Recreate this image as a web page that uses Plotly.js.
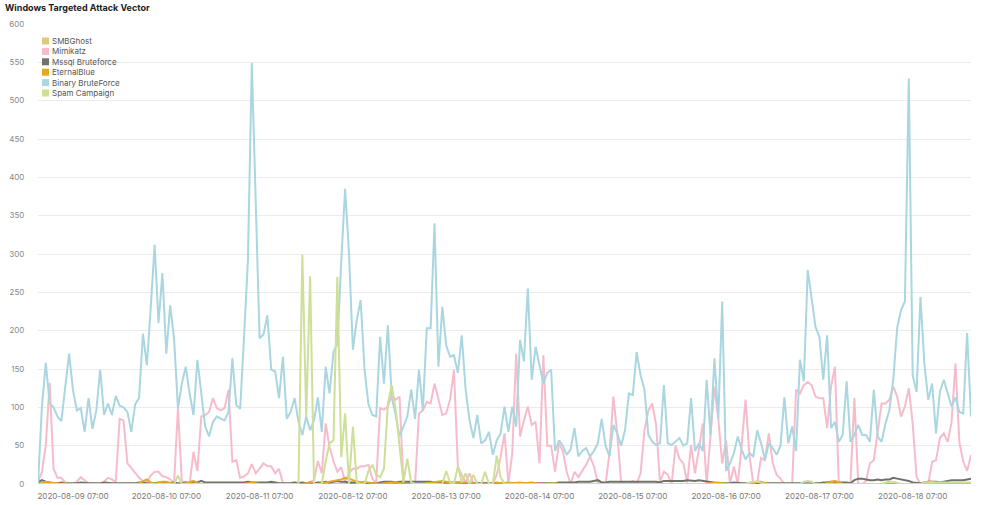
<!DOCTYPE html>
<html><head><meta charset="utf-8">
<script src="https://cdn.plot.ly/plotly-3.0.1.min.js"></script>
<style>html,body{margin:0;padding:0;background:#fff;}#chart{width:1000px;height:505px;}</style>
</head><body><div id="chart"></div>
<script>
// ---- data ----
const chartTitle = "Windows Targeted Attack Vector";
const startTime = "2020-08-08T22:00:00";   // hourly samples
const seriesNames = ["SMBGhost","Mimikatz","Mssql Bruteforce","EternalBlue","Binary BruteForce","Spam Campaign"];
const seriesColors = ["#dccb7d","#f7bccb","#707070","#e6a823","#a9d6e0","#cddf98"];
const tickVals = ["2020-08-09 07:00","2020-08-10 07:00","2020-08-11 07:00","2020-08-12 07:00","2020-08-13 07:00","2020-08-14 07:00","2020-08-15 07:00","2020-08-16 07:00","2020-08-17 07:00","2020-08-18 07:00"];
const tickLabels = ["2020-08-09 07:00","2020-08-10 07:00","2020-08-11 07:00","2020-08-12 07:00","2020-08-13 07:00","2020-08-14 07:00","2020-08-15 07:00","2020-08-16 07:00","2020-08-17 07:00","2020-08-18 07:00"];

const smbGhost = [
0,0,0,0,0,0,0,0,0,0,0,0,0,0,0,0,0,0,0,0,0,0,0,0,
0,0,0,0,0,0,0,0,0,0,0,0,0,0,0,0,0,0,0,0,0,0,0,0,
0,0,0,0,0,0,0,0,0,0,0,0,0,0,0,0,0,0,0,0,0,0,0,0,
0,0,0,0,0,0,0,0,0,0,0,0,0,0,0,0,0,0,0,0,0,0,0,0,
0,0,0,0,0,0,0,0,0,0,0,0,0,0,0,0,0,0,0,0,0,0,0,0,
0,0,0,0,0,0,0,0,0,0,0,0,0,0,0,0,0,0,0,0,0,0,0,0,
0,0,0,0,0,0,0,0,0,0,0,0,0,0,0,0,0,0,0,0,0,0,0,0,
0,0,0,0,0,0,0,0,0,0,0,0,0,0,0,1,2,2,1,0,0,0,0,0,
0,0,0,0,0,0,0,0,0,0,0,0,0,0,0,0,0,0,0,0,0,0,0,0,
0,0,0,0,0,0,0,0,0,0,0,0,0,0,0,0,0,0,0,0,0,0,0,0,0];

const mimikatz = [
3,15,50,132,20,8,8,2,0,0,3,9,5,1,1,0,0,3,8,6,2,85,83,27,
21,15,8,4,2,11,16,16,10,9,6,1,99,3,3,0,42,17,88,90,94,112,99,96,
99,123,29,31,8,10,14,26,14,20,27,23,23,14,20,1,0,1,2,0,2,0,3,5,
30,14,79,48,30,16,22,3,14,20,20,23,23,25,7,1,99,97,101,116,110,114,2,1,
1,0,92,96,107,105,131,110,90,92,110,149,23,12,2,14,1,2,1,2,0,0,12,35,
66,1,40,170,62,83,101,77,81,27,168,50,50,16,53,43,16,0,16,9,17,25,36,23,
2,0,0,40,114,66,2,0,0,4,0,14,70,96,105,77,2,16,12,0,50,33,27,2,
51,14,45,79,0,62,127,85,27,57,0,23,0,50,110,38,0,2,34,31,66,27,12,7,
0,0,0,123,118,129,133,129,114,112,112,73,127,153,0,0,0,2,112,0,0,4,27,31,
70,105,105,110,127,114,88,101,125,79,9,0,0,0,29,31,60,66,55,81,157,55,29,17,38];

const mssql = [
2,5,3,2,1,1,2,1,1,1,1,2,1,1,1,1,1,2,1,1,1,1,1,1,
1,1,2,1,1,1,1,2,1,1,1,2,1,1,2,1,2,2,4,2,2,2,2,2,
2,2,2,2,2,2,3,2,2,2,2,2,3,2,1,1,1,1,2,1,2,1,2,1,
2,2,3,2,3,4,3,3,2,2,2,2,1,1,1,1,2,3,3,3,2,3,3,3,
3,3,3,3,3,3,2,2,2,2,2,2,2,2,1,1,1,1,1,1,1,1,1,1,
1,1,1,1,1,1,1,1,1,1,1,1,1,1,2,2,2,2,2,3,3,3,3,4,
5,2,2,3,3,3,3,3,3,3,3,3,3,3,3,3,2,4,4,4,4,4,4,5,
4,4,5,4,3,2,1,1,1,1,1,2,1,1,1,1,1,1,1,1,1,1,1,1,
1,1,1,1,1,1,1,1,1,1,2,2,3,3,2,2,2,1,5,7,7,6,5,5,
6,5,6,6,8,7,6,5,4,2,1,1,2,3,3,3,2,3,4,5,5,5,5,6,7];

const eternalBlue = [
0,1,3,2,1,0,0,1,0,0,0,0,0,0,0,0,0,0,0,0,0,0,0,0,
0,0,1,3,6,2,0,2,3,3,1,0,0,0,1,3,4,1,0,0,0,0,0,0,
0,0,0,0,0,0,1,2,1,0,0,0,0,0,0,0,0,0,0,0,0,1,2,0,
0,1,2,3,4,5,6,8,7,5,3,2,3,2,1,1,0,1,2,2,2,1,0,0,
0,0,0,0,1,2,3,4,4,3,2,1,2,2,2,1,1,0,0,0,0,1,2,1,
2,2,1,2,2,1,2,2,1,0,0,0,1,1,0,0,0,0,0,0,0,0,0,0,
0,0,0,0,0,0,0,0,0,0,0,0,0,0,0,0,0,0,0,0,0,0,0,0,
0,0,0,0,0,1,2,2,1,0,0,0,0,0,0,0,1,3,3,2,0,0,0,0,
0,0,0,0,0,0,0,0,0,0,0,1,3,4,2,0,0,0,0,0,0,0,0,0,
0,0,0,0,0,0,0,0,0,0,0,0,1,3,3,2,0,0,0,0,0,0,0,0,0];

const binaryBruteForce = [
0,100,158,105,100,88,82,125,170,122,96,99,68,112,72,96,149,90,105,90,115,102,100,94,
68,104,112,196,155,230,312,210,275,170,233,190,99,131,153,118,90,162,114,75,62,81,88,85,
83,94,164,103,98,192,292,549,370,190,195,220,149,147,112,166,85,94,112,81,64,88,70,83,
113,68,153,118,172,183,290,385,301,175,214,240,149,104,90,88,192,131,207,113,90,62,75,88,
123,85,149,96,203,203,340,153,231,181,166,168,145,194,123,83,60,90,53,57,68,38,57,66,
101,68,101,75,188,160,255,136,179,153,131,145,149,43,57,50,38,45,73,36,43,47,36,43,
53,85,50,36,77,66,50,70,118,116,172,142,123,64,55,51,53,129,53,51,55,60,50,53,
112,43,53,43,136,64,164,85,238,17,27,40,62,45,32,40,36,70,53,32,53,47,38,50,
113,53,75,43,162,134,279,244,205,192,136,194,73,81,55,64,134,55,64,77,64,64,55,123,
62,55,79,96,136,203,227,238,529,142,120,244,157,110,131,66,120,136,118,101,113,94,92,197,88];

const spamCampaign = [
0,0,0,0,0,0,0,0,0,0,0,0,0,0,0,0,0,0,0,0,0,0,0,0,
0,0,0,0,0,0,0,0,0,0,0,0,11,0,0,0,0,0,0,0,0,0,0,0,
0,0,0,0,0,0,0,0,0,0,0,0,0,0,0,0,0,0,0,0,299,88,271,0,
0,0,30,53,57,270,35,92,0,75,2,0,0,17,25,12,9,20,105,129,97,45,2,33,
2,0,0,0,0,0,0,0,0,17,2,0,23,2,14,0,12,0,0,16,0,0,37,9,
0,0,0,0,0,0,0,0,0,0,0,0,0,0,0,0,0,0,0,0,0,0,0,0,
0,0,0,0,0,0,0,0,0,0,0,0,0,0,0,0,0,0,0,0,0,0,0,0,
0,0,0,0,0,0,0,0,0,0,0,0,0,0,0,2,3,3,2,0,0,0,0,0,
0,0,0,0,0,3,4,3,0,0,0,0,0,0,0,0,0,0,0,0,0,0,0,0,
0,0,2,3,3,2,0,0,0,0,0,0,2,2,2,2,2,2,2,2,2,2,2,2,2];

const seriesValues = [smbGhost, mimikatz, mssql, eternalBlue, binaryBruteForce, spamCampaign];

// ---- build ----
function pad(n){return (n<10?"0":"")+n;}
const t0 = new Date(startTime + "Z").getTime();
const times = binaryBruteForce.map((_, i) => {
  const d = new Date(t0 + i*3600000);
  return d.getUTCFullYear()+"-"+pad(d.getUTCMonth()+1)+"-"+pad(d.getUTCDate())+" "+pad(d.getUTCHours())+":00";
});

const traces = seriesValues.map((vals, k) => ({
  type: "scatter", mode: "lines", name: seriesNames[k],
  x: times, y: vals,
  line: {color: seriesColors[k], width: 2},
  showlegend: false, hoverinfo: "x+y+name"
}));

// plot area geometry (pixels) used for custom compact legend
const W = 1000, H = 505, ML = 38, MR = 29, MT = 24, MB = 21;
const PW = W - ML - MR, PH = H - MT - MB;
function px2x(px){return (px - ML)/PW;}
function py2y(py){return (H - MB - py)/PH;}

const FONT = "Inter, 'Noto Sans', sans-serif";
const shapes = [], annotations = [];
seriesNames.forEach((nm, k) => {
  const cy = 41 + k*10.4;
  shapes.push({type:"rect", xref:"paper", yref:"paper",
    x0: px2x(42), x1: px2x(49), y0: py2y(cy+3.5), y1: py2y(cy-3.5),
    fillcolor: seriesColors[k], line:{width:0}});
  annotations.push({xref:"paper", yref:"paper", x: px2x(49.5), y: py2y(cy),
    xanchor:"left", yanchor:"middle", showarrow:false, text: nm,
    font:{family: FONT, size: 8, color:"#555"}});
});

const layout = {
  width: W, height: H,
  margin: {l: ML, r: MR, t: MT, b: MB, pad: 0},
  paper_bgcolor: "#fff", plot_bgcolor: "#fff",
  font: {family: FONT, size: 8, color: "#888"},
  title: {text: "<b>" + chartTitle + "</b>", x: 5 / W, xref: "container", xanchor: "left",
          y: 1 - 8/H, yref: "container", yanchor: "middle",
          font: {size: 9, color: "#222"}},
  xaxis: {type: "date", range: [times[0], times[times.length-1]],
          tickvals: tickVals, ticktext: tickLabels, tickmode: "array",
          showgrid: false, zeroline: false, showline: false,
          ticks: "outside", ticklen: 4, tickcolor: "rgba(0,0,0,0)",
          tickfont: {size: 8, color: "#777"}},
  yaxis: {range: [0, 600], dtick: 50, tick0: 0,
          gridcolor: "#ebebeb", gridwidth: 1, zeroline: false, showline: false,
          ticks: "outside", ticklen: 11, tickcolor: "rgba(0,0,0,0)",
          tickfont: {size: 8, color: "#888"}},
  shapes: shapes, annotations: annotations,
  showlegend: false, hovermode: "closest"
};

Plotly.newPlot("chart", traces, layout, {displayModeBar: false, staticPlot: true});
</script>
</body></html>
